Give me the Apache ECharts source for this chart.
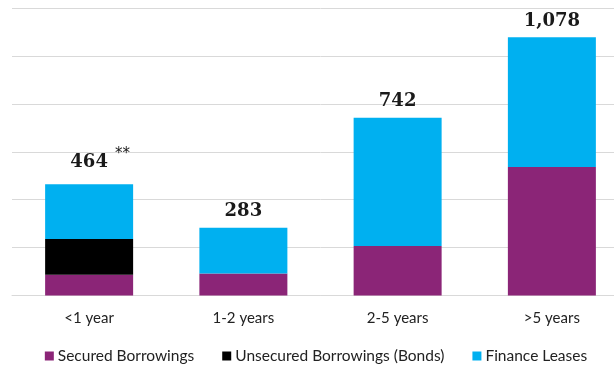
<!DOCTYPE html>
<html>
<head>
<meta charset="utf-8">
<script src="https://cdn.jsdelivr.net/npm/echarts@6/dist/echarts.min.js"></script>
<style>html,body{margin:0;padding:0;background:#fff;overflow:hidden;width:614px;height:365px;}#c{width:632px;height:365px;}</style>
</head>
<body>
<div id="c"></div>
<script>
const categories = ['<1 year', '1-2 years', '2-5 years', '>5 years'];
const securedBorrowings = [87, 92, 207, 536];
const unsecuredBonds = [149, 0, 0, 0];
const financeLeases = [228, 191, 535, 542];
const totalLabels = ['464', '283', '742', '1,078'];
const totalNotes = ['**', '', '', ''];
const seriesNames = ['Secured Borrowings', 'Unsecured Borrowings (Bonds)', 'Finance Leases'];

const chart = echarts.init(document.getElementById('c'), null, {renderer: 'canvas'});
const labelFont = 'Lato, "Open Sans", sans-serif';
chart.setOption({
  animation: false,
  grid: {left: 12, right: 3, top: 8, bottom: 69.5, containLabel: false},
  legend: {
    bottom: -4, left: 'center',
    itemWidth: 9, itemHeight: 9, itemGap: 28,
    icon: 'rect',
    textStyle: {fontFamily: labelFont, fontSize: 15.5, color: '#222', padding: [0,0,0,-1]},
    data: seriesNames
  },
  xAxis: {
    type: 'category', data: categories,
    axisLine: {lineStyle: {color: '#d9d9d9'}},
    axisTick: {show: false},
    axisLabel: {fontFamily: labelFont, fontSize: 15, color: '#222', margin: 15}
  },
  yAxis: {
    type: 'value', min: 0, max: 1200, interval: 200,
    axisLabel: {show: false}, axisLine: {show: false}, axisTick: {show: false},
    splitLine: {lineStyle: {color: '#d9d9d9', width: 1}}
  },
  series: [
    {name: seriesNames[0], type: 'bar', stack: 't', barWidth: 88, data: securedBorrowings,
     itemStyle: {color: '#8B2577'}},
    {name: seriesNames[1], type: 'bar', stack: 't', barWidth: 88, data: unsecuredBonds,
     itemStyle: {color: '#000000'}},
    {name: seriesNames[2], type: 'bar', stack: 't', barWidth: 88, data: financeLeases,
     itemStyle: {color: '#00B0F0'},
     label: {
       show: true, position: 'top', distance: 7,
       formatter: p => {
         const n = totalNotes[p.dataIndex];
         return n ? '{p|}{v|' + totalLabels[p.dataIndex] + '}{s|' + n + '}' : '{v|' + totalLabels[p.dataIndex] + '}';
       },
       rich: {
         v: {fontFamily: '"DejaVu Serif", serif', fontWeight: 'bold', fontSize: 18, color: '#1a1a1a'},
         s: {fontFamily: '"DejaVu Sans", sans-serif', fontSize: 15, color: '#1a1a1a', width: 22, align: 'right', padding: [0,0,16,0]},
         p: {width: 22}
       }
     }}
  ]
});
</script>
</body>
</html>
